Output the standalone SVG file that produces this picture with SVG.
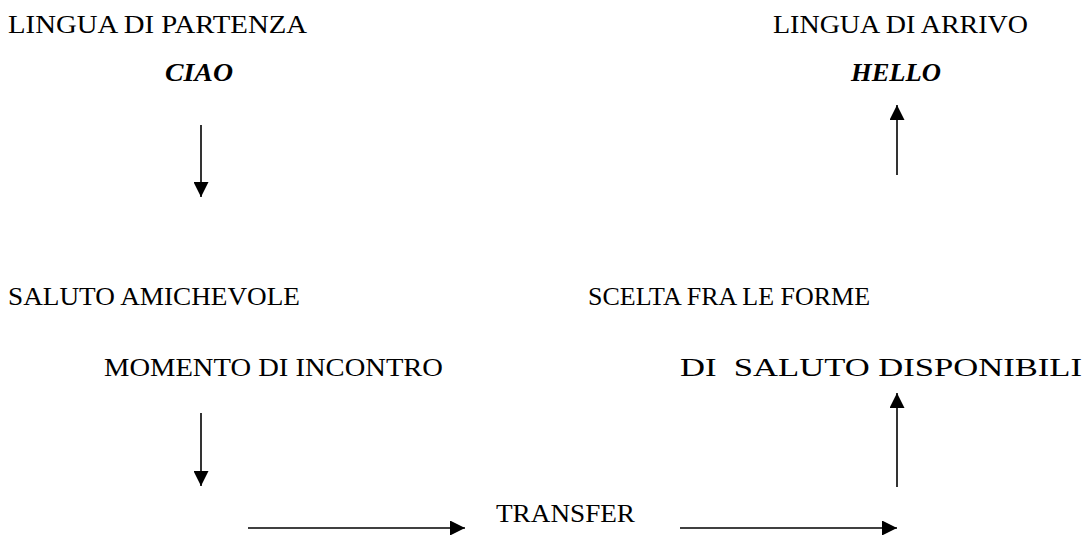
<svg xmlns="http://www.w3.org/2000/svg" width="1091" height="535" viewBox="0 0 1091 535">
<style>
text{font-family:"Liberation Serif","DejaVu Serif",serif;font-size:26px;fill:#000}
.it{font-style:italic;font-weight:bold}
.conn line{stroke:#000;stroke-width:1.6;marker-end:url(#ah)}
</style>
<defs>
<marker id="ah" markerUnits="userSpaceOnUse" markerWidth="15" markerHeight="15" viewBox="0 0 15 15" refX="15" refY="7.5" orient="auto">
<path d="M0,0 L15,7.5 L0,15 z" fill="#000"/>
</marker>
</defs>
<rect width="1091" height="535" fill="#fff"/>
<g id="n-partenza"><text x="8" y="33" textLength="299" lengthAdjust="spacingAndGlyphs">LINGUA DI PARTENZA</text><text class="it" x="165" y="81" textLength="68" lengthAdjust="spacingAndGlyphs">CIAO</text></g>
<g id="n-arrivo"><text x="773" y="33" textLength="255" lengthAdjust="spacingAndGlyphs">LINGUA DI ARRIVO</text><text class="it" x="851" y="81" textLength="90" lengthAdjust="spacingAndGlyphs">HELLO</text></g>
<g id="n-saluto"><text x="8" y="305" textLength="292" lengthAdjust="spacingAndGlyphs">SALUTO AMICHEVOLE</text><text x="104" y="376" textLength="339" lengthAdjust="spacingAndGlyphs">MOMENTO DI INCONTRO</text></g>
<g id="n-scelta"><text x="588" y="305" textLength="282" lengthAdjust="spacingAndGlyphs">SCELTA FRA LE FORME</text><text x="680" y="376" textLength="402" lengthAdjust="spacingAndGlyphs" xml:space="preserve">DI  SALUTO DISPONIBILI</text></g>
<g id="n-transfer"><text x="496" y="522" textLength="139" lengthAdjust="spacingAndGlyphs">TRANSFER</text></g>
<g class="conn" id="connectors">
<line x1="201" y1="125" x2="201" y2="197"/>
<line x1="897" y1="175" x2="897" y2="105"/>
<line x1="201" y1="413" x2="201" y2="486"/>
<line x1="897" y1="487" x2="897" y2="393"/>
<line x1="248" y1="528" x2="465" y2="528"/>
<line x1="680" y1="528" x2="897" y2="528"/>
</g>
</svg>
